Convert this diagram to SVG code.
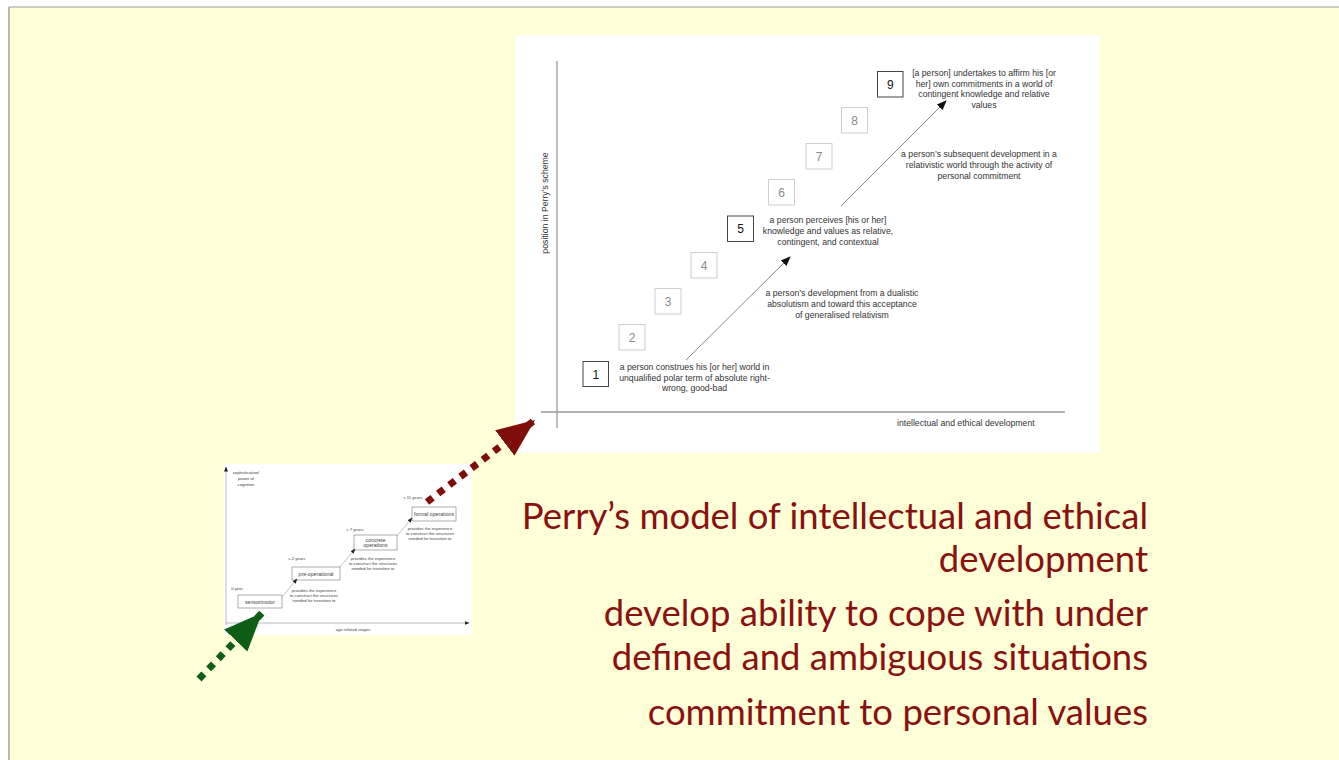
<svg xmlns="http://www.w3.org/2000/svg" width="1339" height="760" viewBox="0 0 1339 760">
<defs>
<style>
.bg{fill:#FFFFD8}
.panel{fill:#FFFFFF}
.axis{stroke:#9a9a9a;stroke-width:1.3;fill:none}
.bx{fill:#fff;stroke:#444;stroke-width:1}
.bxg{fill:#fff;stroke:#cfcfcf;stroke-width:1}
.num{font-family:"Liberation Sans",Arial,sans-serif;font-size:12px;fill:#111;text-anchor:middle}
.numg{font-family:"Liberation Sans",Arial,sans-serif;font-size:12px;fill:#888;text-anchor:middle}
.desc{font-family:"Liberation Sans",Arial,sans-serif;font-size:8.7px;fill:#333;text-anchor:middle}
.lbl{font-family:"Liberation Sans",Arial,sans-serif;font-size:8.7px;fill:#333}
.conn{stroke:#888;stroke-width:1;fill:none}
.sm{font-family:"Liberation Sans",Arial,sans-serif;font-size:4.2px;fill:#444;text-anchor:middle}
.smb{font-family:"Liberation Sans",Arial,sans-serif;font-size:5.2px;fill:#444;text-anchor:middle}
.sbx{fill:#fff;stroke:#777;stroke-width:0.6}
.title{font-family:Lato,"Open Sans",sans-serif;font-size:36.5px;fill:#8B1111;text-anchor:end}
</style>
<marker id="ah" markerWidth="10" markerHeight="10" refX="9" refY="5" orient="auto" markerUnits="userSpaceOnUse">
<path d="M0,1 L10,5 L0,9 Z" fill="#111"/>
</marker>
<marker id="ahs" markerWidth="5" markerHeight="5" refX="4.5" refY="2.5" orient="auto" markerUnits="userSpaceOnUse">
<path d="M0,0.5 L5,2.5 L0,4.5 Z" fill="#222"/>
</marker>
<marker id="ahr" markerWidth="40" markerHeight="40" refX="38" refY="20" orient="auto" markerUnits="userSpaceOnUse">
<path d="M0,4 L38,20 L0,36 Z" fill="#7F0E0A"/>
</marker>
<marker id="ahgr" markerWidth="40" markerHeight="40" refX="38" refY="20" orient="auto" markerUnits="userSpaceOnUse">
<path d="M0,4 L38,20 L0,36 Z" fill="#0E5E16"/>
</marker>
</defs>

<rect x="0" y="0" width="1339" height="760" fill="#ffffff"/>
<rect class="bg" x="9" y="7" width="1330" height="753"/>
<line x1="9" y1="7" x2="1339" y2="7" stroke="#9a9a9a" stroke-width="1"/>
<line x1="9" y1="7" x2="9" y2="760" stroke="#8a8a8a" stroke-width="1.2"/>

<!-- main panel -->
<g id="main-panel">
<rect class="panel" x="515" y="35" width="585" height="418"/>
<line class="axis" x1="557" y1="61" x2="557" y2="428"/>
<line class="axis" x1="541" y1="412" x2="1065" y2="412"/>
<text class="lbl" transform="translate(548,203) rotate(-90)" text-anchor="middle">position in Perry’s scheme</text>
<text class="lbl" x="897" y="426">intellectual and ethical development</text>
</g>

<g id="node-1"><rect class="bx" x="583" y="361.5" width="25.5" height="25"/><text class="num" x="595.8" y="378.5">1</text></g>
<g id="node-2"><rect class="bxg" x="619" y="324.5" width="26" height="25.5"/><text class="numg" x="632" y="341.5">2</text></g>
<g id="node-3"><rect class="bxg" x="655" y="288.5" width="26" height="25.5"/><text class="numg" x="668" y="305.5">3</text></g>
<g id="node-4"><rect class="bxg" x="691" y="252.5" width="26" height="25.5"/><text class="numg" x="704" y="269.5">4</text></g>
<g id="node-5"><rect class="bx" x="727.5" y="216" width="26" height="25.5"/><text class="num" x="740.5" y="233">5</text></g>
<g id="node-6"><rect class="bxg" x="768.5" y="179.5" width="26" height="25.5"/><text class="numg" x="781.5" y="196.5">6</text></g>
<g id="node-7"><rect class="bxg" x="806" y="143.5" width="26" height="25.5"/><text class="numg" x="819" y="160.5">7</text></g>
<g id="node-8"><rect class="bxg" x="841.5" y="107.5" width="26" height="25.5"/><text class="numg" x="854.5" y="124.5">8</text></g>
<g id="node-9"><rect class="bx" x="877.5" y="71.5" width="25.5" height="25.5"/><text class="num" x="890.3" y="88.5">9</text></g>

<g id="desc-1"><text class="desc" x="694.5" y="369.5">a person construes his [or her] world in</text><text class="desc" x="694.5" y="380.5">unqualified polar term of absolute right-</text><text class="desc" x="694.5" y="391">wrong, good-bad</text></g>
<g id="desc-2"><text class="desc" x="842" y="296">a person’s development from a dualistic</text><text class="desc" x="842" y="307">absolutism and toward this acceptance</text><text class="desc" x="842" y="318">of generalised relativism</text></g>
<g id="desc-5"><text class="desc" x="828" y="223">a person perceives [his or her]</text><text class="desc" x="828" y="234">knowledge and values as relative,</text><text class="desc" x="828" y="245">contingent, and contextual</text></g>
<g id="desc-6"><text class="desc" x="979" y="157">a person’s subsequent development in a</text><text class="desc" x="979" y="168">relativistic world through the activity of</text><text class="desc" x="979" y="179">personal commitment</text></g>
<g id="desc-9"><text class="desc" x="984" y="76">[a person] undertakes to affirm his [or</text><text class="desc" x="984" y="86.5">her] own commitments in a world of</text><text class="desc" x="984" y="97">contingent knowledge and relative</text><text class="desc" x="984" y="107.5">values</text></g>

<g id="connectors">
<line class="conn" x1="686" y1="360" x2="790" y2="257" marker-end="url(#ah)"/>
<line class="conn" x1="841" y1="206" x2="946" y2="101" marker-end="url(#ah)"/>
</g>

<!-- small diagram -->
<g id="small-diagram">
<rect class="panel" x="224" y="464" width="248" height="171"/>
<line x1="226" y1="625" x2="226" y2="467" stroke="#aaa" stroke-width="0.8" marker-end="url(#ahs)"/>
<line x1="226" y1="623" x2="469" y2="623" stroke="#aaa" stroke-width="0.8" marker-end="url(#ahs)"/>
<text class="sm" x="246" y="474">sophistication/</text>
<text class="sm" x="246" y="480">power of</text>
<text class="sm" x="246" y="486">cognition</text>
<text class="sm" x="353" y="631">age-related stages</text>
</g>
<g id="s-sensorimotor"><rect class="sbx" x="238" y="595" width="44" height="13"/><text class="smb" x="260" y="603.5">sensorimotor</text><text class="sm" x="237" y="590">0 year</text></g>
<g id="s-preop"><rect class="sbx" x="292" y="567" width="48" height="13"/><text class="smb" x="316" y="575.5">pre-operational</text><text class="sm" x="297" y="560">c.2 years</text></g>
<g id="s-concrete"><rect class="sbx" x="354" y="535" width="43" height="15"/><text class="smb" x="375.5" y="541.5">concrete</text><text class="smb" x="375.5" y="547">operations</text><text class="sm" x="355" y="531">c.7 years</text></g>
<g id="s-formal"><rect class="sbx" x="412" y="507" width="44" height="14"/><text class="smb" x="434" y="515.5">formal operations</text><text class="sm" x="413" y="499">c.11 years</text></g>
<g id="s-texts">
<text class="sm" x="314" y="592">provides the experience</text><text class="sm" x="314" y="597">to construct the structures</text><text class="sm" x="314" y="602">needed for transition to</text>
<text class="sm" x="373" y="560">provides the experience</text><text class="sm" x="373" y="565">to construct the structures</text><text class="sm" x="373" y="570">needed for transition to</text>
<text class="sm" x="430" y="530">provides the experience</text><text class="sm" x="430" y="535">to construct the structures</text><text class="sm" x="430" y="540">needed for transition to</text>
</g>
<g id="small-connectors">
<line x1="282" y1="597" x2="297" y2="579" stroke="#888" stroke-width="0.5" marker-end="url(#ahs)"/>
<line x1="340" y1="567" x2="355" y2="549" stroke="#888" stroke-width="0.5" marker-end="url(#ahs)"/>
<line x1="397" y1="536" x2="412" y2="518" stroke="#888" stroke-width="0.5" marker-end="url(#ahs)"/>
</g>

<g id="big-arrows">
<line x1="199" y1="679" x2="262" y2="613" stroke="#0E5E16" stroke-width="7" stroke-dasharray="7 7" marker-end="url(#ahgr)"/>
<line x1="427" y1="502" x2="535" y2="420" stroke="#7F0E0A" stroke-width="7" stroke-dasharray="7 7" marker-end="url(#ahr)"/>
</g>

<g id="title">
<text class="title" x="1148" y="529">Perry’s model of intellectual and ethical</text>
<text class="title" x="1148" y="572">development</text>
<text class="title" x="1148" y="626">develop ability to cope with under</text>
<text class="title" x="1148" y="670">defined and ambiguous situations</text>
<text class="title" x="1148" y="725">commitment to personal values</text>
</g>
</svg>
